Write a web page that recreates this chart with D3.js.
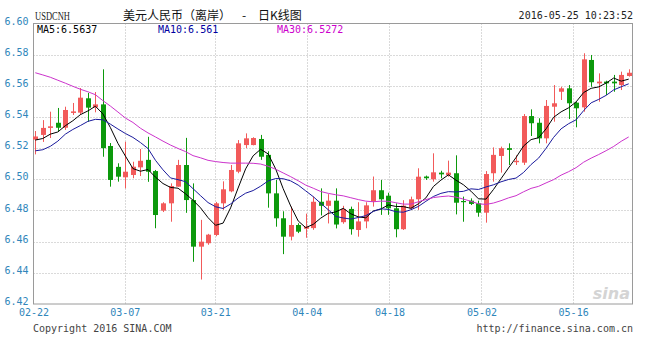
<!DOCTYPE html>
<meta charset="utf-8">

<!-- Load d3.js -->
<script src="https://d3js.org/d3.v7.min.js"></script>

<style>
  body { margin: 0; background-color: #ffffff; }
  svg text { font-family: "DejaVu Sans Mono", "Liberation Mono", monospace; }
</style>

<!-- Create a div where the graph will take place -->
<div id="my_dataviz"></div>

<script>

// daily candles, one per trading day (Mon-Sat), 2016-02-22 .. 2016-05-25
var opens = [6.5255,6.5285,6.5330,6.5363,6.5331,6.5426,6.5428,6.5520,6.5462,6.5481,
  6.5214,6.5080,6.5013,6.5028,6.5077,6.5125,6.5053,6.4799,6.4846,6.4953,
  6.5092,6.4867,6.4568,6.4590,6.4643,6.4846,6.4923,6.5049,6.5220,6.5220,
  6.5259,6.5157,6.4910,6.4750,6.4632,6.4707,6.4683,6.4687,6.4856,6.4830,
  6.4863,6.4725,6.4810,6.4675,6.4730,6.4856,6.4930,6.4895,6.4814,6.4680,
  6.4814,6.4872,6.5018,6.5000,6.5043,6.5028,6.5039,6.4861,6.4863,6.4846,
  6.4786,6.5039,6.5150,6.5200,6.5110,6.5107,6.5406,6.5363,6.5263,6.5466,
  6.5562,6.5584,6.5492,6.5462,6.5766,6.5616,6.5627,6.5627,6.5605,6.5663];
var highs = [6.5310,6.5380,6.5434,6.5458,6.5466,6.5490,6.5586,6.5554,6.5560,6.5706,
  6.5233,6.5103,6.5241,6.5113,6.5195,6.5273,6.5060,6.4853,6.4974,6.5125,
  6.5266,6.4974,6.4740,6.4650,6.4855,6.4987,6.5092,6.5252,6.5295,6.5270,
  6.5285,6.5180,6.4996,6.4795,6.4825,6.4718,6.4780,6.4890,6.4942,6.4905,
  6.4942,6.4830,6.4825,6.4853,6.4853,6.5018,6.4996,6.4914,6.4846,6.4866,
  6.4889,6.5071,6.5024,6.5167,6.5055,6.5120,6.5154,6.4889,6.4878,6.4863,
  6.5053,6.5205,6.5210,6.5231,6.5154,6.5419,6.5449,6.5392,6.5509,6.5605,
  6.5594,6.5605,6.5498,6.5809,6.5798,6.5680,6.5633,6.5670,6.5691,6.5706];
var lows = [6.5160,6.5240,6.5265,6.5306,6.5317,6.5413,6.5413,6.5370,6.5430,6.5145,
  6.4953,6.4985,6.4942,6.5007,6.5021,6.4984,6.4686,6.4790,6.4728,6.4953,
  6.4785,6.4471,6.4357,6.4580,6.4635,6.4804,6.4917,6.5039,6.5200,6.5218,
  6.5125,6.4818,6.4696,6.4520,6.4608,6.4655,6.4625,6.4676,6.4768,6.4717,
  6.4685,6.4715,6.4645,6.4632,6.4686,6.4825,6.4772,6.4772,6.4628,6.4675,
  6.4804,6.4804,6.4996,6.4985,6.5007,6.5017,6.4775,6.4728,6.4835,6.4760,
  6.4722,6.4985,6.5043,6.5092,6.5092,6.5092,6.5278,6.5231,6.5231,6.5370,
  6.5509,6.5387,6.5334,6.5434,6.5594,6.5498,6.5541,6.5562,6.5573,6.5659];
var closes = [6.5275,6.5330,6.5340,6.5331,6.5445,6.5436,6.5524,6.5460,6.5481,6.5200,
  6.4996,6.5017,6.5049,6.5081,6.5119,6.5049,6.4771,6.4846,6.4957,6.5092,
  6.4867,6.4568,6.4600,6.4645,6.4846,6.4936,6.5060,6.5231,6.5263,6.5265,
  6.5145,6.4910,6.4750,6.4632,6.4707,6.4664,6.4697,6.4856,6.4830,6.4863,
  6.4710,6.4810,6.4680,6.4730,6.4833,6.4930,6.4872,6.4814,6.4680,6.4831,
  6.4872,6.5017,6.5007,6.5045,6.5032,6.5043,6.4850,6.4855,6.4842,6.4786,
  6.5034,6.5157,6.5200,6.5189,6.5119,6.5406,6.5360,6.5263,6.5471,6.5488,
  6.5584,6.5488,6.5456,6.5770,6.5623,6.5627,6.5616,6.5616,6.5670,6.5684];

// moving average lines
var ma5 = [6.5252,6.5262,6.5290,6.5304,6.5344,6.5376,6.5415,6.5439,6.5469,6.5420,
  6.5332,6.5231,6.5149,6.5069,6.5052,6.5063,6.5014,6.4973,6.4948,6.4943,
  6.4907,6.4866,6.4817,6.4754,6.4705,6.4719,6.4817,6.4944,6.5067,6.5151,
  6.5193,6.5163,6.5067,6.4940,6.4829,6.4733,6.4690,6.4711,6.4751,6.4782,
  6.4791,6.4814,6.4779,6.4759,6.4753,6.4797,6.4809,6.4836,6.4826,6.4825,
  6.4814,6.4843,6.4881,6.4954,6.4995,6.5029,6.4995,6.4965,6.4924,6.4875,
  6.4873,6.4935,6.5004,6.5073,6.5140,6.5214,6.5255,6.5267,6.5324,6.5398,
  6.5433,6.5459,6.5497,6.5557,6.5584,6.5593,6.5618,6.5650,6.5630,6.5643];
var ma10 = [6.5183,6.5190,6.5212,6.5245,6.5290,6.5320,6.5345,6.5372,6.5385,6.5382,
  6.5354,6.5323,6.5294,6.5269,6.5236,6.5198,6.5122,6.5061,6.5009,6.4998,
  6.4985,6.4940,6.4895,6.4851,6.4824,6.4813,6.4842,6.4880,6.4911,6.4928,
  6.4956,6.4990,6.5005,6.5004,6.4990,6.4963,6.4926,6.4889,6.4846,6.4805,
  6.4762,6.4752,6.4745,6.4755,6.4767,6.4794,6.4811,6.4807,6.4792,6.4789,
  6.4805,6.4826,6.4859,6.4890,6.4910,6.4921,6.4919,6.4923,6.4939,6.4935,
  6.4951,6.4965,6.4984,6.4999,6.5008,6.5044,6.5095,6.5136,6.5199,6.5269,
  6.5324,6.5357,6.5382,6.5441,6.5491,6.5513,6.5539,6.5574,6.5594,6.5613];
var ma30 = [6.5684,6.5670,6.5655,6.5636,6.5617,6.5597,6.5578,6.5562,6.5543,6.5505,
  6.5470,6.5432,6.5393,6.5365,6.5328,6.5298,6.5272,6.5245,6.5220,6.5198,
  6.5178,6.5152,6.5138,6.5122,6.5114,6.5108,6.5104,6.5104,6.5104,6.5103,
  6.5098,6.5084,6.5065,6.5041,6.5017,6.4991,6.4963,6.4943,6.4922,6.4910,
  6.4901,6.4894,6.4882,6.4870,6.4860,6.4856,6.4860,6.4859,6.4850,6.4841,
  6.4841,6.4856,6.4870,6.4883,6.4889,6.4893,6.4886,6.4873,6.4859,6.4843,
  6.4839,6.4848,6.4863,6.4881,6.4895,6.4920,6.4942,6.4955,6.4977,6.4998,
  6.5027,6.5049,6.5075,6.5110,6.5136,6.5159,6.5184,6.5211,6.5244,6.5272];

var maLabels = ["MA5:6.5637", "MA10:6.561", "MA30:6.5272"];

// y ticks and date labels (position = candle index of the date)
var yTicks = [6.42,6.44,6.46,6.48,6.50,6.52,6.54,6.56,6.58,6.60];
var dateLabels = ["02-22","03-07","03-21","04-04","04-18","05-02","05-16"];
var datePos = [-0.24, 11.9, 23.95, 36.15, 47.15, 59.4, 71.6];

// set the dimensions of the graph
var width = 645, height = 338;
var plot = {left: 33.5, right: 632.5, top: 23.5, bottom: 304};

var svg = d3.select("#my_dataviz")
  .append("svg")
    .attr("width", width)
    .attr("height", height);

var x = d3.scaleLinear()
  .domain([0, closes.length - 1])
  .range([35.3, 628.7]);

var y = d3.scaleLinear()
  .domain([6.42, 6.60])
  .range([plot.bottom, plot.top]);

// dotted grid
svg.append("g")
  .selectAll("line")
  .data(yTicks.slice(1, -1))
  .enter()
  .append("line")
    .attr("x1", plot.left)
    .attr("x2", plot.right)
    .attr("y1", function(d) { return Math.round(y(d)) + 0.5; })
    .attr("y2", function(d) { return Math.round(y(d)) + 0.5; })
    .attr("stroke", "#b4b4b4")
    .attr("stroke-dasharray", "1,2");

svg.append("g")
  .selectAll("line")
  .data(datePos.slice(1))
  .enter()
  .append("line")
    .attr("x1", function(d) { return Math.round(x(d)) + 0.5; })
    .attr("x2", function(d) { return Math.round(x(d)) + 0.5; })
    .attr("y1", plot.top)
    .attr("y2", plot.bottom)
    .attr("stroke", "#b4b4b4")
    .attr("stroke-dasharray", "1,2");

// frame
svg.append("rect")
  .attr("x", plot.left)
  .attr("y", plot.top)
  .attr("width", plot.right - plot.left)
  .attr("height", plot.bottom - plot.top)
  .attr("fill", "none")
  .attr("stroke", "#9a9a9a");

// sina watermark
svg.append("text")
  .attr("x", 630)
  .attr("y", 299)
  .attr("text-anchor", "end")
  .style("font-family", "DejaVu Sans")
  .style("font-style", "italic")
  .style("font-weight", "bold")
  .style("font-size", "16px")
  .attr("fill", "#d4d4d4")
  .text("sina");

// candles
var upColor = "#f25a5a", downColor = "#0c990c";
var candles = svg.append("g")
  .selectAll("g")
  .data(closes)
  .enter()
  .append("g")
    .attr("fill", function(d, i) { return d >= opens[i] ? upColor : downColor; })
    .attr("stroke", function(d, i) { return d >= opens[i] ? upColor : downColor; });

candles.append("line")
  .attr("x1", function(d, i) { return Math.round(x(i)) + 0.5; })
  .attr("x2", function(d, i) { return Math.round(x(i)) + 0.5; })
  .attr("y1", function(d, i) { return y(highs[i]); })
  .attr("y2", function(d, i) { return y(lows[i]); });

candles.append("rect")
  .attr("stroke", "none")
  .attr("x", function(d, i) { return Math.round(x(i)) - 2; })
  .attr("width", 5)
  .attr("y", function(d, i) { return y(Math.max(d, opens[i])); })
  .attr("height", function(d, i) { return Math.max(1.2, Math.abs(y(d) - y(opens[i]))); });

// moving average lines
var maLine = d3.line()
  .x(function(d, i) { return x(i); })
  .y(function(d) { return y(d); });

var maColors = ["#000000", "#1a1a9c", "#cc33cc"];
[ma5, ma10, ma30].forEach(function(s, k) {
  svg.append("path")
    .datum(s)
    .attr("d", maLine)
    .attr("fill", "none")
    .attr("stroke", maColors[k])
    .attr("stroke-width", 1);
});

// legend
var legendColors = ["#000000", "#0000a0", "#cc00cc"];
var legendX = [37, 158, 277];
svg.append("g")
  .selectAll("text")
  .data(maLabels)
  .enter()
  .append("text")
    .attr("x", function(d, i) { return legendX[i]; })
    .attr("y", 33)
    .attr("fill", function(d, i) { return legendColors[i]; })
    .style("font-size", "10px")
    .text(function(d) { return d; });

// Y axis
var yAxis = svg.append("g")
  .attr("transform", "translate(" + plot.left + ",0)")
  .call(d3.axisLeft(y).tickValues(yTicks).tickFormat(d3.format(".2f")).tickSize(0).tickPadding(5));
yAxis.select(".domain").remove();
yAxis.selectAll("text")
  .attr("dy", "0.05em")
  .attr("fill", "#2f86bb")
  .style("font-family", "DejaVu Sans Mono")
  .style("font-size", "10px");

// X axis
var xAxis = svg.append("g")
  .attr("transform", "translate(0," + plot.bottom + ")")
  .call(d3.axisBottom(x).tickValues(datePos)
    .tickFormat(function(d, i) { return dateLabels[i]; })
    .tickSize(0).tickPadding(5));
xAxis.select(".domain").remove();
xAxis.selectAll("text")
  .attr("fill", "#2f86bb")
  .style("font-family", "DejaVu Sans Mono")
  .style("font-size", "10px");

// header
svg.append("text")
  .attr("x", 35)
  .attr("y", 20)
  .attr("textLength", 35)
  .attr("lengthAdjust", "spacingAndGlyphs")
  .style("font-family", "Liberation Serif")
  .style("font-size", "13px")
  .attr("fill", "#222")
  .text("USDCNH");

var titleParts = ["美元人民币（离岸）", "-", "日K线图"];
var titleX = [123, 242, 258];
svg.append("g")
  .selectAll("text")
  .data(titleParts)
  .enter()
  .append("text")
    .attr("x", function(d, i) { return titleX[i]; })
    .attr("y", 20)
    .style("font-family", "Noto Sans CJK SC")
    .style("font-size", "12px")
    .attr("fill", "#111")
    .text(function(d) { return d; });

svg.append("text")
  .attr("x", 633)
  .attr("y", 19)
  .attr("text-anchor", "end")
  .style("font-size", "10px")
  .attr("fill", "#222")
  .text("2016-05-25 10:23:52");

// footer
svg.append("text")
  .attr("x", 33)
  .attr("y", 332)
  .style("font-size", "10px")
  .attr("fill", "#444")
  .text("Copyright 2016 SINA.COM");

svg.append("text")
  .attr("x", 633)
  .attr("y", 332)
  .attr("text-anchor", "end")
  .style("font-size", "10px")
  .attr("fill", "#444")
  .text("http://finance.sina.com.cn");

</script>
